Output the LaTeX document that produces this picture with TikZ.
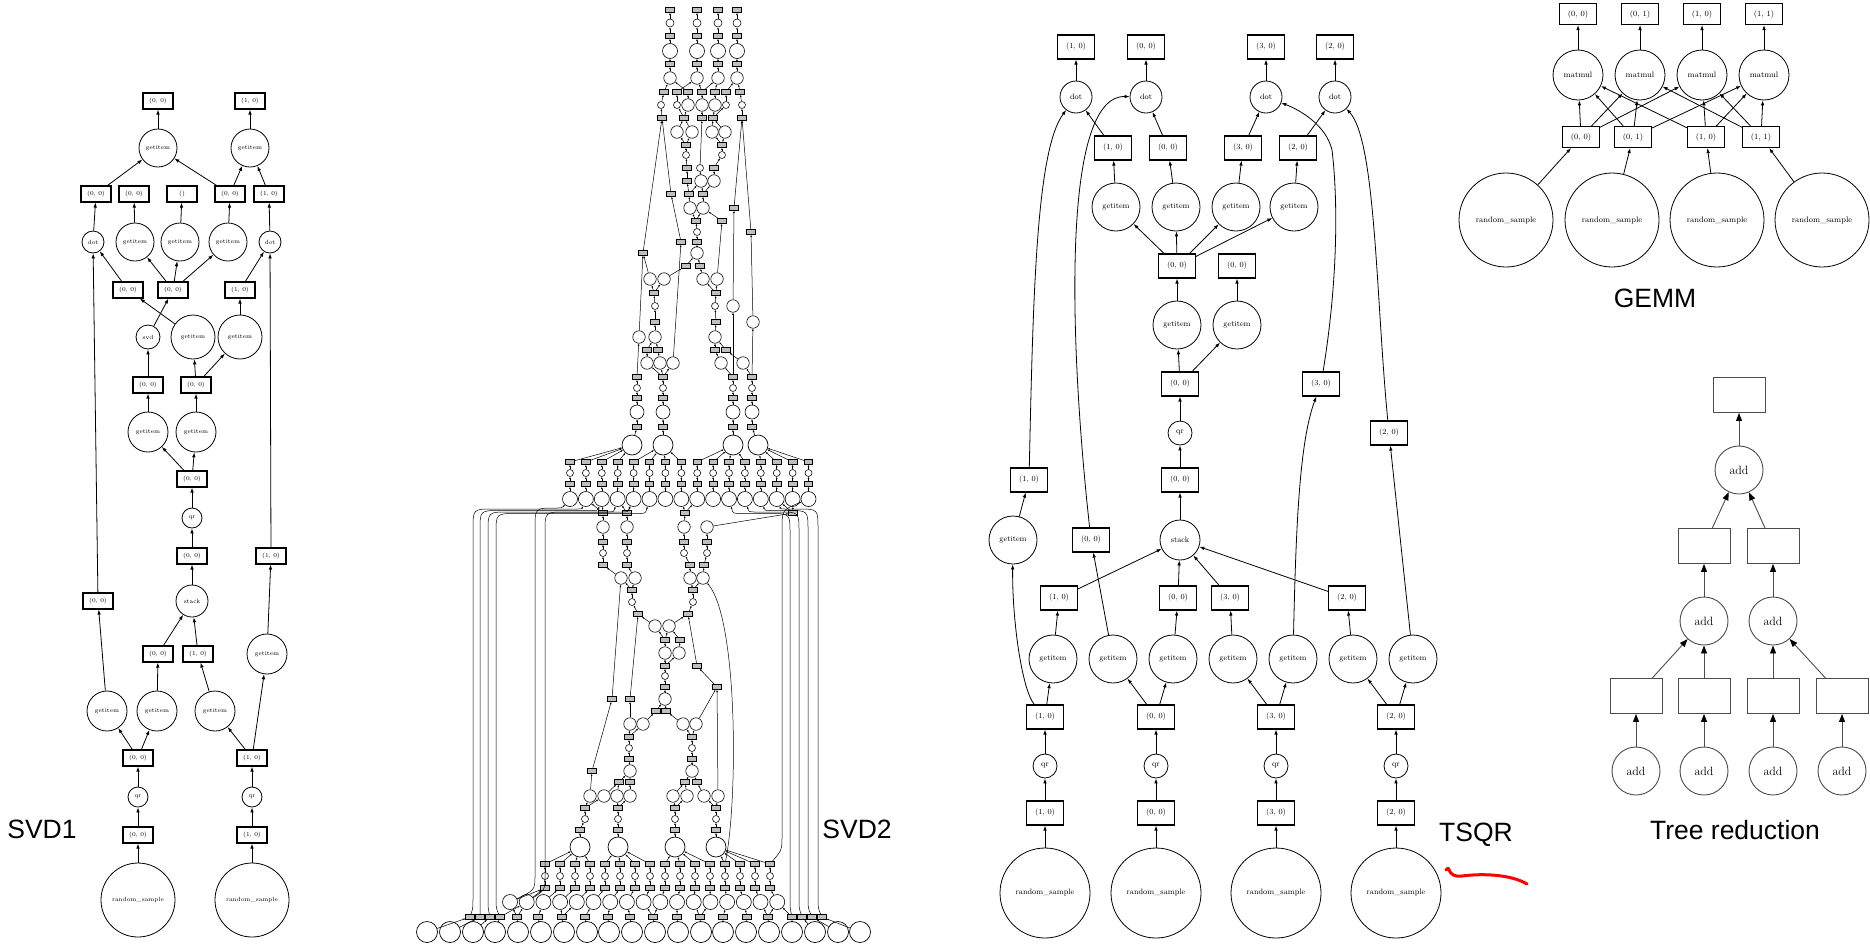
\documentclass[tikz,border=0pt]{standalone}
\usepackage{fontspec}
\newfontfamily\capfont{Liberation Sans}
\usetikzlibrary{arrows.meta}

\tikzset{
  blk/.style={draw, rectangle, line width=1.1pt, inner sep=0pt},
  op/.style={draw, circle, line width=0.8pt, inner sep=0pt, minimum size=#1},
  dep/.style={-{Latex[length=5pt,width=3.6pt]}, line width=0.8pt},
  s1box/.style={blk, minimum width=30pt, minimum height=16pt},
  tbox/.style={blk, minimum width=37pt, minimum height=24pt},
  gbox/.style={blk, minimum width=37pt, minimum height=21pt},
  rbox/.style={draw=black!70, rectangle, line width=0.9pt, minimum width=52pt, minimum height=35pt},
  rop/.style={draw=black!70, circle, line width=0.9pt, minimum size=48pt, inner sep=0pt},
  rdep/.style={-{Triangle[length=8pt,width=6pt,color=black]}, draw=black!70, line width=0.9pt},
  vb/.style={draw, fill=gray!50, line width=0.6pt, inner sep=0pt, minimum width=8.5pt, minimum height=5pt},
  vs/.style={draw, circle, line width=0.55pt, inner sep=0pt, minimum size=7pt},
  vo/.style={draw, circle, line width=0.6pt, inner sep=0pt, minimum size=12.5pt},
  vg/.style={draw, circle, line width=0.7pt, inner sep=0pt, minimum size=20pt},
  vdep/.style={-{Latex[length=2.2pt,width=1.8pt]}, line width=0.5pt},
  caption/.style={font=\capfont\fontsize{26.5}{30}\selectfont},
}

\begin{document}
\begin{tikzpicture}[x=1pt, y=-1pt]
\useasboundingbox (0,0) rectangle (1870,948);

% --- SVD1 ---
\begin{scope}[font=\fontsize{6}{7}\selectfont]
  \node[s1box] (s1o1) at (158,101) {(0, 0)};
  \node[s1box] (s1o2) at (250,101) {(1, 0)};
  \node[op=38] (s1g1) at (158,148) {getitem};
  \node[op=38] (s1g2) at (250,148) {getitem};
  \node[s1box] (s1b1) at (96,194) {(0, 0)};
  \node[s1box] (s1b2) at (134,194) {(0, 0)};
  \node[s1box] (s1b3) at (182,194) {()};
  \node[s1box] (s1b4) at (230,194) {(0, 0)};
  \node[s1box] (s1b5) at (269,194) {(1, 0)};
  \node[op=22] (s1d1) at (93,242) {dot};
  \node[op=38] (s1g3) at (135,242) {getitem};
  \node[op=38] (s1g4) at (180,242) {getitem};
  \node[op=38] (s1g5) at (228,242) {getitem};
  \node[op=22] (s1d2) at (270,242) {dot};
  \node[s1box] (s1b6) at (128,290) {(0, 0)};
  \node[s1box] (s1b7) at (173,290) {(0, 0)};
  \node[s1box] (s1b8) at (240,290) {(1, 0)};
  \node[op=24] (s1svd) at (148,337) {svd};
  \node[op=44] (s1g6) at (193,337) {getitem};
  \node[op=44] (s1g7) at (240,337) {getitem};
  \node[s1box] (s1b9) at (148,385) {(0, 0)};
  \node[s1box] (s1b10) at (196,385) {(0, 0)};
  \node[op=40] (s1g8) at (148,432) {getitem};
  \node[op=40] (s1g9) at (196,432) {getitem};
  \node[s1box] (s1b11) at (192,479) {(0, 0)};
  \node[op=20] (s1qr1) at (192,518) {qr};
  \node[s1box] (s1b12) at (192,556) {(0, 0)};
  \node[s1box] (s1b13) at (271,556) {(1, 0)};
  \node[s1box] (s1b14) at (98,601) {(0, 0)};
  \node[op=32] (s1st) at (192,601) {stack};
  \node[s1box] (s1b15) at (158,654) {(0, 0)};
  \node[s1box] (s1b16) at (198,654) {(1, 0)};
  \node[op=40] (s1g10) at (267,654) {getitem};
  \node[op=40] (s1g11) at (107,711) {getitem};
  \node[op=40] (s1g12) at (157,711) {getitem};
  \node[op=40] (s1g13) at (215,711) {getitem};
  \node[s1box] (s1b17) at (138,758) {(0, 0)};
  \node[s1box] (s1b18) at (252,758) {(1, 0)};
  \node[op=20] (s1qr2) at (138,797) {qr};
  \node[op=20] (s1qr3) at (252,797) {qr};
  \node[s1box] (s1b19) at (138,835) {(0, 0)};
  \node[s1box] (s1b20) at (252,835) {(1, 0)};
  \node[op=74] (s1rs1) at (138,900) {random\_sample};
  \node[op=74] (s1rs2) at (252,900) {random\_sample};
\end{scope}
\foreach \a/\b in {s1g1/s1o1, s1g2/s1o2, s1b1/s1g1, s1b4/s1g1, s1b4/s1g2, s1b5/s1g2,
    s1d1/s1b1, s1g3/s1b2, s1g4/s1b3, s1g5/s1b4, s1d2/s1b5,
    s1b6/s1d1, s1b7/s1g3, s1b7/s1g4, s1b7/s1g5, s1b8/s1d2,
    s1svd/s1b7, s1g6/s1b6, s1g7/s1b8, s1b9/s1svd, s1b10/s1g6, s1b10/s1g7,
    s1g8/s1b9, s1g9/s1b10, s1b11/s1g8, s1b11/s1g9, s1qr1/s1b11, s1b12/s1qr1, s1st/s1b12,
    s1b14/s1d1, s1b13/s1d2, s1b15/s1st, s1b16/s1st,
    s1g11/s1b14, s1g12/s1b15, s1g13/s1b16, s1g10/s1b13,
    s1b17/s1g11, s1b17/s1g12, s1b18/s1g13, s1b18/s1g10,
    s1qr2/s1b17, s1qr3/s1b18, s1b19/s1qr2, s1b20/s1qr3, s1rs1/s1b19, s1rs2/s1b20}
  \draw[dep] (\a) -- (\b);
\node[caption] (capsvd1) at (42,829) {SVD1};

% --- SVD2 (bottom half) ---
\foreach \xa/\xb [count=\i] in {427/470,450/480,473/490,495/500,518/517,541/538,564/562,587/585,609/608,632/630,655/653,678/677,701/700,723/723,746/747,769/768,792/792,815/802,838/812,860/822} {
  \node[vg, minimum size=21pt] (v932-\i) at (\xa,932) {};
  \node[vb] (v917-\i) at (\xb,917) {};
}
\foreach \i in {1,...,17}
  \node[vo, minimum size=15pt] (v902-\i) at ({510+16.7*(\i-1)},902) {};
\foreach \k in {1,...,16} {
  \node[vb] (v888-\k) at ({545+15*(\k-1)},888) {};
  \node[vs] (v876-\k) at ({545+15*(\k-1)},876) {};
  \node[vb] (v864-\k) at ({545+15*(\k-1)},864) {};
}
\foreach \xa/\xb [count=\c] in {580/585,618/618,675/675,716/716} {
  \node[vg] (v847-\c) at (\xa,847) {};
  \node[vb] (v830-\c) at (\xa,830) {};
  \node[vs] (v819-\c) at (\xb,819) {};
  \node[vb] (v808-\c) at (\xb,808) {};
}
\foreach \x [count=\c] in {590,604,617,630,673,687,704,718}
  \node[vo] (v796-\c) at (\x,796) {};
\foreach \n/\x/\y/\s in {
    v513a/603/513/vb, v513b/627/513/vb, v513c/685/513/vb, v513d/793/513/vb,
    v527a/603/527/vo, v527b/627/527/vo, v527c/684/527/vo, v527d/707/527/vo,
    v542a/603/542/vb, v542b/627/542/vb, v542c/684/542/vb, v542d/707/542/vb,
    v553a/603/553/vs, v553b/627/553/vs, v553c/684/553/vs, v553d/707/553/vs,
    v565a/603/565/vb, v565b/627/565/vb, v565c/690/565/vb, v565d/704/565/vb,
    v578a/621/578/vo, v578b/635/578/vo, v578c/690/578/vo, v578d/703/578/vo,
    v590a/632/590/vb, v590b/693/590/vb, v602a/632/602/vs, v602b/693/602/vs,
    v614a/638/614/vb, v614b/688/614/vb, v626a/655/626/vo, v626b/669/626/vo,
    v640a/665/640/vb, v640b/680/640/vb, v653a/665/653/vo, v653b/679/653/vo,
    v666a/665/666/vb, v666b/697/666/vb, v676a/665/676/vs,
    v687a/665/687/vb, v687b/717/687/vb,
    v699a/665/699/vo, v699b/612/699/vb, v699c/630/699/vb,
    v711a/656/711/vb, v711b/666/711/vb,
    v724a/630/724/vo, v724b/643/724/vo, v724c/683/724/vo, v724d/696/724/vo,
    v737a/629/737/vb, v737b/692/737/vb, v748a/629/748/vs, v748b/692/748/vs,
    v759a/629/759/vb, v759b/692/759/vb,
    v771a/630/771/vo, v771b/592/771/vb, v771c/692/771/vo,
    v782a/619/782/vb, v782b/630/782/vb, v782c/685/782/vb, v782d/697/782/vb}
  \node[\s] (\n) at (\x,\y) {};

% --- SVD2 (top half) ---
\foreach \c/\x in {a/670,b/697,c/718,d/737} {
  \node[vb] (v10\c) at (\x,10) {};
  \node[vs, minimum size=8pt] (v23\c) at (\x,23) {};
  \node[vb] (v36\c) at (\x,36) {};
  \node[vo, minimum size=15pt] (v51\c) at (\x,51) {};
  \node[vb] (v64\c) at (\x,64) {};
  \node[vo] (v78\c) at (\x,78) {};
}
\foreach \n/\x/\y/\s in {
    v92a/664/92/vb, v92b/677/92/vb, v92c/688/92/vb, v92d/702/92/vb, v92e/715/92/vb, v92f/726/92/vb, v92g/740/92/vb,
    v105a/661/105/vs, v105b/677/105/vs, v105c/688/105/vo, v105d/702/105/vo, v105e/715/105/vo, v105f/726/105/vs, v105g/742/105/vs,
    v118a/662/118/vb, v118b/684/118/vb, v118c/702/118/vb, v118d/713/118/vb, v118e/742/118/vb,
    v132a/677/132/vo, v132b/692/132/vo, v132c/712/132/vo, v132d/725/132/vo,
    v145a/686/145/vb, v145b/722/145/vb, v155a/686/155/vs, v155b/722/155/vs,
    v168a/687/168/vb, v168b/700/168/vs, v168c/714/168/vb,
    v181a/687/181/vb, v181b/701/181/vo, v181c/714/181/vo,
    v194a/671/194/vb, v194b/689/194/vb, v194c/703/194/vb,
    v208a/690/208/vo, v208b/703/208/vo, v208c/734/208/vb,
    v221a/696/221/vb, v221b/722/221/vb, v232a/697/232/vs, v232b/751/232/vb,
    v242a/681/242/vb, v242b/697/242/vb, v253a/643/253/vb, v253b/697/253/vo,
    v266a/686/266/vb, v266b/700/266/vb,
    v279a/650/279/vo, v279b/664/279/vo, v279c/703/279/vo, v279d/717/279/vo,
    v293a/654/293/vb, v293b/716/293/vb,
    v306a/655/306/vs, v306b/715/306/vs, v306c/733/306/vo,
    v322a/655/322/vb, v322b/716/322/vb, v322c/753/322/vo,
    v337a/639/337/vo, v337b/655/337/vo, v337c/715/337/vo,
    v350a/647/350/vb, v350b/658/350/vb, v350c/715/350/vb, v350d/726/350/vb,
    v363a/647/363/vo, v363b/660/363/vo, v363c/673/363/vo, v363d/721/363/vo, v363e/743/363/vo}
  \node[\s] (\n) at (\x,\y) {};
\foreach \x/\xg [count=\c] in {637/632,663/663,733/733,752/758} {
  \node[vb] (v377-\c) at (\x,377) {};
  \node[vs] (v388-\c) at (\x,388) {};
  \node[vb] (v398-\c) at (\x,398) {};
  \node[vo, minimum size=14pt] (v412-\c) at (\x,412) {};
  \node[vb] (v427-\c) at (\x,427) {};
  \node[vg] (v445-\c) at (\xg,445) {};
}
\foreach \k in {1,...,16} {
  \pgfmathsetmacro\xk{570+15.9*(\k-1)}
  \node[vo, minimum size=15pt] (v499-\k) at (\xk,499) {};
  \node[vb] (v484-\k) at (\xk,484) {};
  \node[vs] (v473-\k) at (\xk,473) {};
  \node[vb] (v462-\k) at (\xk,462) {};
}

% SVD2 edges
\foreach \i in {1,...,20}
  \draw[vdep] (v932-\i) -- (v917-\i);
\foreach \a/\b in {4/2,5/1,5/2,6/3,7/4,7/5,8/6,9/7,10/8,11/9,11/10,12/11,13/12,13/13,14/14,15/15,16/16,16/17,17/17}
  \draw[vdep] (v917-\a) -- (v902-\b);
\draw[vdep] (v902-1) -- (v888-1);
\foreach \k in {1,...,16} {
  \pgfmathtruncatemacro\j{\k+1}
  \pgfmathtruncatemacro\g{(\k-1)/4+1}
  \draw[vdep] (v902-\j) -- (v888-\k);
  \draw[vdep] (v888-\k) -- (v876-\k);
  \draw[vdep] (v876-\k) -- (v864-\k);
  \draw[vdep] (v864-\k) -- (v847-\g);
  \draw[vdep] (v499-\k) -- (v484-\k);
  \draw[vdep] (v484-\k) -- (v473-\k);
  \draw[vdep] (v473-\k) -- (v462-\k);
  \draw[vdep] (v462-\k) -- (v445-\g);
}
\foreach \c in {1,...,4} {
  \pgfmathtruncatemacro\p{2*\c-1}
  \pgfmathtruncatemacro\q{2*\c}
  \draw[vdep] (v847-\c) -- (v830-\c);
  \draw[vdep] (v830-\c) -- (v819-\c);
  \draw[vdep] (v819-\c) -- (v808-\c);
  \draw[vdep] (v808-\c) -- (v796-\p);
  \draw[vdep] (v808-\c) -- (v796-\q);
  \draw[vdep] (v388-\c) -- (v377-\c);
  \draw[vdep] (v398-\c) -- (v388-\c);
  \draw[vdep] (v412-\c) -- (v398-\c);
  \draw[vdep] (v427-\c) -- (v412-\c);
  \draw[vdep] (v445-\c) -- (v427-\c);
}
\foreach \c in {a,b,c,d} {
  \draw[vdep] (v23\c) -- (v10\c);
  \draw[vdep] (v36\c) -- (v23\c);
  \draw[vdep] (v51\c) -- (v36\c);
  \draw[vdep] (v64\c) -- (v51\c);
  \draw[vdep] (v78\c) -- (v64\c);
  \draw[vdep] (v565\c) -- (v553\c);
  \draw[vdep] (v553\c) -- (v542\c);
  \draw[vdep] (v542\c) -- (v527\c);
  \draw[vdep] (v527\c) -- (v513\c);
}
\foreach \a/\b in {v796-2/v782a, v796-3/v782a, v796-4/v782b, v796-5/v782c, v796-6/v782c, v796-7/v782d,
    v796-1/v771b, v796-8/v687b, v782a/v771a, v782b/v771a, v782c/v771c, v782d/v771c,
    v771a/v759a, v771c/v759b, v759a/v748a, v759b/v748b, v748a/v737a, v748b/v737b,
    v737a/v724a, v737a/v724b, v737b/v724c, v737b/v724d,
    v724b/v711a, v724c/v711b, v724a/v699c, v724d/v687b, v771b/v699b,
    v711a/v699a, v711b/v699a, v699a/v687a, v687a/v676a, v676a/v666a,
    v666a/v653a, v666a/v653b, v687b/v666b, v666b/v614b, v699b/v578a, v699c/v614a,
    v653a/v640a, v653b/v640b, v640a/v626a, v640a/v626b, v640b/v626b,
    v626a/v614a, v626b/v614b, v614a/v602a, v614b/v602b, v602a/v590a, v602b/v590b,
    v590a/v578a, v590a/v578b, v590b/v578c, v590b/v578d,
    v578a/v565a, v578b/v565b, v578c/v565c, v578d/v565d,
    v513a/v499-2, v513a/v499-3, v513b/v499-4, v513b/v499-5,
    v513c/v499-8, v513c/v499-9, v513d/v499-14, v513d/v499-15,
    v92a/v78a, v92c/v78a, v92b/v78b, v92d/v78b, v92e/v78c, v92f/v78d, v92g/v78d, v92d/v78c,
    v105a/v92a, v105b/v92b, v105c/v92c, v105d/v92d, v105e/v92e, v105f/v92f, v105g/v92g,
    v118a/v105a, v118b/v105b, v118b/v105c, v118c/v105d, v118d/v105e, v118d/v105f, v118e/v105g,
    v132a/v118b, v132b/v118b, v132c/v118d, v132d/v118d,
    v145a/v132a, v145a/v132b, v145b/v132c, v145b/v132d, v155a/v145a, v155b/v145b,
    v168a/v155a, v168c/v155b, v168b/v118c,
    v181a/v168a, v181b/v168b, v181c/v168c,
    v194a/v118a, v194b/v181a, v194b/v181b, v194c/v181b, v194c/v181c,
    v208a/v194b, v208b/v194c, v208c/v118e,
    v221a/v208a, v221a/v208b, v221b/v208b, v232a/v221a, v232b/v118e,
    v242a/v194a, v242b/v232a, v253a/v118a, v253b/v242b, v266a/v253b, v266b/v253b,
    v279a/v253a, v279b/v266a, v279c/v266b, v279d/v221b,
    v293a/v279a, v293a/v279b, v293b/v279c, v293b/v279d,
    v306a/v293a, v306b/v293b, v306c/v208c, v322a/v306a, v322b/v306b, v322c/v232b,
    v337a/v253a, v337b/v322a, v337c/v322b,
    v350a/v337b, v350b/v337b, v350c/v337c, v350d/v337c,
    v363a/v350a, v363b/v350b, v363c/v242a, v363d/v350c, v363e/v350d,
    v377-1/v337a, v377-2/v363a, v377-2/v363b, v377-2/v363c, v377-3/v363d, v377-3/v306c,
    v377-4/v363e, v377-4/v322c}
  \draw[vdep] (\a) -- (\b);
% long chunk lines up the sides
\foreach \i/\xl/\yl/\t/\tx in {1/473/509/2/585.9, 2/480/510.5/3/601.8, 3/488/512/4/617.7, 4/496/513.5/6/649.5}
  \draw[vdep] (v917-\i) .. controls (\xl,908) .. (\xl,895) -- (\xl,\yl+20)
    .. controls (\xl,\yl) .. (\xl+20,\yl) -- (\tx-12,\yl) .. controls (\tx-4,\yl) .. (v499-\t);
\foreach \i/\xl/\yl/\t/\tx in {17/790/513.5/11/729, 18/799/512/12/744.9, 19/808/510.5/13/760.8, 20/818/509/14/776.7}
  \draw[vdep] (v917-\i) .. controls (\xl,908) .. (\xl,895) -- (\xl,\yl+20)
    .. controls (\xl,\yl) .. (\xl-20,\yl) -- (\tx+12,\yl) .. controls (\tx+4,\yl) .. (v499-\t);
\draw[vdep] (v902-1) .. controls (535,890) .. (535,875) -- (535,528) .. controls (535,508) .. (555,508) .. controls (562,508) .. (v499-1);
\draw[vdep] (v902-2) .. controls (545,890) .. (545,875) -- (545,532) .. controls (545,512) .. (565,512) -- (622,512) .. controls (628,512) .. (v499-5);
\draw[vdep] (v864-16) .. controls (782,850) .. (782,835) -- (782,530) .. controls (782,510) .. (v499-16);
\draw[vdep] (v864-13) .. controls (738,800) and (738,620) .. (v578d);
\node[caption] (capsvd2) at (857,829) {SVD2};

% --- TSQR ---
\begin{scope}[font=\fontsize{7.8}{9}\selectfont]
  \foreach \n/\x/\t in {1/1076/{(1, 0)}, 2/1146/{(0, 0)}, 3/1266/{(3, 0)}, 4/1335/{(2, 0)}} {
    \node[tbox] (to\n) at (\x,47) {\t};
    \node[op=32] (td\n) at (\x,97) {dot};
  }
  \node[tbox] (tb1) at (1113,148) {(1, 0)};
  \node[tbox] (tb2) at (1168,148) {(0, 0)};
  \node[tbox] (tb3) at (1243,148) {(3, 0)};
  \node[tbox] (tb4) at (1298,148) {(2, 0)};
  \foreach \n/\x in {1/1116, 2/1176, 3/1236, 4/1294}
    \node[op=48] (tg\n) at (\x,207) {getitem};
  \node[tbox] (tb5) at (1177,266) {(0, 0)};
  \node[tbox] (tb6) at (1237,266) {(0, 0)};
  \node[op=48] (tg5) at (1177,325) {getitem};
  \node[op=48] (tg6) at (1237,325) {getitem};
  \node[tbox] (tb7) at (1180,384) {(0, 0)};
  \node[tbox] (tb8) at (1321,384) {(3, 0)};
  \node[op=24] (tqr) at (1180,433) {qr};
  \node[tbox] (tb9) at (1389,433) {(2, 0)};
  \node[tbox] (tb10) at (1180,480) {(0, 0)};
  \node[tbox] (tb11) at (1029,480) {(1, 0)};
  \node[op=48] (tg7) at (1013,540) {getitem};
  \node[tbox] (tb12) at (1091,540) {(0, 0)};
  \node[op=40] (tst) at (1180,540) {stack};
  \node[tbox] (tb13) at (1059,598) {(1, 0)};
  \node[tbox] (tb14) at (1178,598) {(0, 0)};
  \node[tbox] (tb15) at (1230,598) {(3, 0)};
  \node[tbox] (tb16) at (1347,598) {(2, 0)};
  \foreach \n/\x in {8/1053, 9/1113, 10/1173, 11/1233, 12/1293, 13/1353, 14/1413}
    \node[op=48] (tg\n) at (\x,659) {getitem};
  \foreach \n/\x/\t in {1/1045/{(1, 0)}, 2/1156/{(0, 0)}, 3/1276/{(3, 0)}, 4/1396/{(2, 0)}} {
    \node[tbox] (tc\n) at (\x,717) {\t};
    \node[op=24] (tq\n) at (\x,766) {qr};
    \node[tbox] (ti\n) at (\x,813) {\t};
    \node[op=90] (trs\n) at (\x,893) {random\_sample};
  }
\end{scope}
\foreach \a/\b in {trs1/ti1, trs2/ti2, trs3/ti3, trs4/ti4, ti1/tq1, ti2/tq2, ti3/tq3, ti4/tq4,
    tq1/tc1, tq2/tc2, tq3/tc3, tq4/tc4,
    tc1/tg8, tc2/tg9, tc2/tg10, tc3/tg11, tc3/tg12, tc4/tg13, tc4/tg14,
    tg7/tb11, tg8/tb13, tg9/tb12, tg10/tb14, tg11/tb15, tg13/tb16, tg14/tb9,
    tb13/tst, tb14/tst, tb15/tst, tb16/tst,
    tst/tb10, tb10/tqr, tqr/tb7, tb7/tg5, tb7/tg6, tg5/tb5, tg6/tb6,
    tb5/tg1, tb5/tg2, tb5/tg3, tb5/tg4, tg1/tb1, tg2/tb2, tg3/tb3, tg4/tb4,
    tb1/td1, tb2/td2, tb3/td3, tb4/td4, td1/to1, td2/to2, td3/to3, td4/to4}
  \draw[dep] (\a) -- (\b);
\draw[dep] (tc1) .. controls (1022,690) and (1012,620) .. (tg7);
\draw[dep] (tb11) .. controls (1033,300) and (1036,150) .. (td1);
\draw[dep] (tb12) .. controls (1070,350) and (1060,95) .. (td2);
\draw[dep] (tb8) .. controls (1338,280) and (1338,200) .. (1332,150) .. controls (1326,125) and (1300,110) .. (td3);
\draw[dep] (tb9) .. controls (1376,300) and (1376,140) .. (td4);
\draw[dep] (tg12) .. controls (1296,520) and (1300,440) .. (tb8);
\node[caption] (captsqr) at (1476,835) {TSQR};
\draw[red, line width=3pt, line cap=round] (1446,870) .. controls (1451,864) and (1446,878) .. (1462,876)
  .. controls (1485,873) and (1512,875) .. (1527,884);

% --- GEMM ---
\begin{scope}[font=\fontsize{8}{9}\selectfont]
  \foreach \n/\xa/\xb/\xc/\t in {1/1578/1581/1506/{(0, 0)}, 2/1640/1633/1612/{(0, 1)}, 3/1702/1706/1717/{(1, 0)}, 4/1764/1761/1822/{(1, 1)}} {
    \node[gbox] (go\n) at (\xa,14) {\t};
    \node[op=50] (gm\n) at (\xa,75) {matmul};
    \node[gbox] (gb\n) at (\xb,137) {\t};
    \node[op=94] (grs\n) at (\xc,220) {random\_sample};
  }
\end{scope}
\foreach \a/\b in {grs1/gb1, grs2/gb2, grs3/gb3, grs4/gb4,
    gb1/gm1, gb2/gm1, gb3/gm1, gb1/gm2, gb2/gm2, gb4/gm2,
    gb1/gm3, gb3/gm3, gb4/gm3, gb2/gm4, gb3/gm4, gb4/gm4,
    gm1/go1, gm2/go2, gm3/go3, gm4/go4}
  \draw[dep] (\a) -- (\b);
\node[caption] (capgemm) at (1655,298) {GEMM};

% --- Tree reduction ---
\begin{scope}[font=\fontsize{12}{14}\selectfont]
  \node[rbox] (rb0) at (1739,395) {};
  \node[rop] (ra0) at (1739,470) {add};
  \node[rbox] (rb1) at (1704,546) {};
  \node[rbox] (rb2) at (1773,546) {};
  \node[rop] (ra1) at (1704,621) {add};
  \node[rop] (ra2) at (1773,621) {add};
  \foreach \n/\x in {3/1636, 4/1704, 5/1773, 6/1842} {
    \node[rbox] (rb\n) at (\x,696) {};
    \node[rop] (ra\n) at (\x,771) {add};
  }
\end{scope}
\foreach \a/\b in {ra3/rb3, ra4/rb4, ra5/rb5, ra6/rb6, rb3/ra1, rb4/ra1, rb5/ra2, rb6/ra2,
    ra1/rb1, ra2/rb2, rb1/ra0, rb2/ra0, ra0/rb0}
  \draw[rdep] (\a) -- (\b);
\node[caption] (captree) at (1735,830) {Tree reduction};
\end{tikzpicture}
\end{document}
